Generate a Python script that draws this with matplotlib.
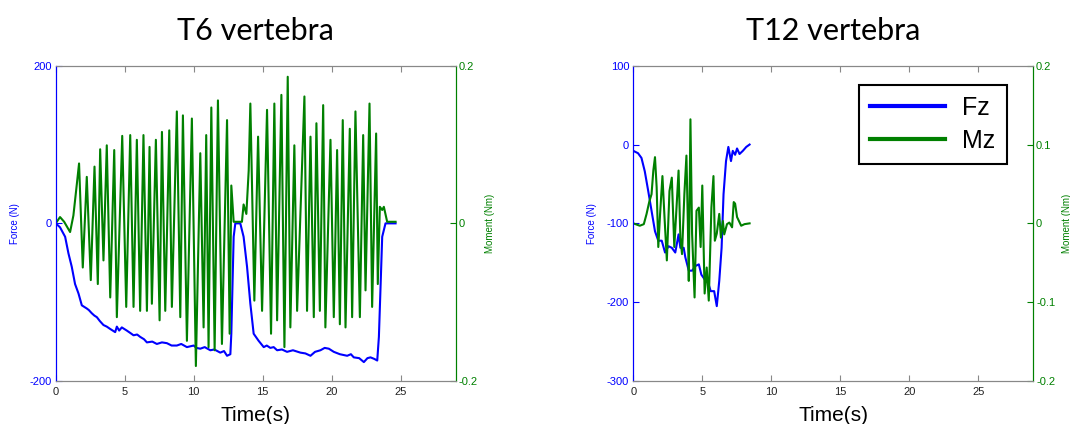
import matplotlib
matplotlib.use("Agg")
import matplotlib.pyplot as plt
from matplotlib.lines import Line2D

plt.rcParams["font.family"] = ["Liberation Sans", "DejaVu Sans"]
plt.rcParams["axes.unicode_minus"] = False

BLUE = "#0000ff"
GREEN = "#008000"

# ---- T6 vertebra ----
t6_fz_t = [0, 0.31, 0.68, 0.92, 1.16, 1.40, 1.65, 1.89, 2.25, 2.40, 2.61, 2.80, 2.98, 3.20, 3.46,
           3.70, 3.95, 4.31, 4.43, 4.60, 4.79, 5.15, 5.40, 5.64, 5.90, 6.12, 6.40, 6.61, 7.00, 7.33,
           7.70, 8.06, 8.40, 8.78, 9.10, 9.51, 10.0, 10.20, 10.48, 10.80, 11.21, 11.50, 11.93, 12.20,
           12.42, 12.66, 12.73, 12.90, 13.02, 13.38, 13.62, 13.87, 14.11, 14.35, 14.71, 15.08, 15.30,
           15.56, 15.80, 16.05, 16.40, 16.77, 17.20, 17.74, 18.10, 18.47, 18.80, 19.19, 19.50, 19.80,
           20.16, 20.60, 21.13, 21.40, 21.61, 22.00, 22.34, 22.60, 22.82, 23.10, 23.31, 23.43, 23.67,
           23.91, 24.64]
t6_fz = [0, -5, -17, -38, -55, -77, -89, -104, -108, -110, -114, -117, -119, -124, -129,
         -131, -134, -138, -131, -136, -132, -136, -139, -142, -141, -144, -147, -151, -150, -153,
         -151, -152, -155, -155, -153, -157, -155, -158, -159, -157, -161, -160, -164, -162,
         -168, -166, -140, -17, 0, 0, -17, -55, -102, -140, -149, -157, -155,
         -158, -157, -161, -160, -163, -161, -164, -165, -168, -163, -161, -158, -159,
         -163, -166, -168, -166, -170, -171, -176, -171, -170, -172, -174, -144, -17,
         0, 0]

t6_mz_t = [0, 0.31, 0.61, 1.04, 1.28, 1.53, 1.69, 1.96, 2.25, 2.54, 2.81, 3.05, 3.22, 3.46, 3.70,
           3.95, 4.24, 4.43, 4.82, 5.11, 5.40, 5.64, 5.88, 6.12, 6.36, 6.61, 6.80, 6.97, 7.26, 7.53,
           7.70, 7.94, 8.23, 8.42, 8.78, 9.03, 9.22, 9.51, 9.87, 10.16, 10.48, 10.72, 10.91, 11.08,
           11.28, 11.52, 11.76, 12.05, 12.42, 12.61, 12.73, 12.90, 13.50, 13.62, 13.82, 13.99, 14.11,
           14.40, 14.67, 14.96, 15.32, 15.61, 15.85, 16.05, 16.36, 16.58, 16.82, 17.01, 17.30, 17.50,
           18.03, 18.22, 18.47, 18.71, 18.90, 19.15, 19.39, 19.55, 19.92, 20.16, 20.40, 20.60, 20.81,
           21.01, 21.32, 21.49, 21.73, 22.05, 22.29, 22.46, 22.75, 22.94, 23.23, 23.35, 23.50, 23.67,
           23.79, 24.03, 24.64]
t6_mz = [0, 0.008, 0.002, -0.011, 0.010, 0.050, 0.076, -0.056, 0.059, -0.072, 0.072, -0.077, 0.094,
         -0.047, 0.099, -0.094, 0.093, -0.119, 0.111, -0.106, 0.112, -0.106, 0.106, -0.111, 0.112,
         -0.111, 0.097, -0.102, 0.106, -0.123, 0.116, -0.111, 0.118, -0.106, 0.142, -0.119, 0.137,
         -0.149, 0.133, -0.181, 0.089, -0.132, 0.112, -0.157, 0.147, -0.161, 0.156, -0.153, 0.131,
         -0.140, 0.048, 0.002, 0.002, 0.024, 0.012, 0.067, 0.152, -0.098, 0.110, -0.111, 0.144,
         -0.140, 0.152, -0.123, 0.163, -0.157, 0.186, -0.132, 0.099, -0.111, 0.161, -0.111, 0.110,
         -0.119, 0.127, -0.111, 0.150, -0.132, 0.106, -0.119, 0.093, -0.128, 0.131, -0.132, 0.120,
         -0.119, 0.142, -0.119, 0.112, -0.085, 0.152, -0.106, 0.114, -0.077, 0.021, 0.017, 0.021,
         0.002, 0.002]

# ---- T12 vertebra ----
t12_fz_t = [0, 0.34, 0.59, 0.83, 1.08, 1.32, 1.57, 1.81, 2.06, 2.30, 2.55, 2.79, 3.04, 3.28, 3.41,
            3.65, 3.77, 4.02, 4.26, 4.51, 4.75, 4.93, 5.17, 5.42, 5.61, 5.86, 6.05, 6.23, 6.40, 6.54,
            6.72, 6.89, 7.08, 7.21, 7.38, 7.52, 7.70, 7.94, 8.19, 8.43]
t12_fz = [-8, -11, -17, -34, -59, -84, -110, -122, -122, -137, -129, -131, -137, -114, -131,
          -131, -143, -160, -160, -154, -152, -165, -171, -175, -186, -186, -205, -173, -131, -63,
          -21, -3, -21, -8, -13, -5, -12, -8, -3, 0]

t12_mz_t = [0, 0.47, 0.76, 0.96, 1.15, 1.32, 1.45, 1.57, 1.69, 1.81, 1.94, 2.11, 2.26, 2.43, 2.62,
            2.79, 2.97, 3.16, 3.28, 3.41, 3.53, 3.70, 3.85, 3.95, 4.02, 4.14, 4.26, 4.44, 4.58, 4.75,
            4.88, 5.00, 5.17, 5.32, 5.47, 5.66, 5.81, 5.91, 6.05, 6.23, 6.35, 6.49, 6.59, 6.79, 6.96,
            7.16, 7.28, 7.38, 7.52, 7.82, 8.06, 8.43]
t12_mz = [0, -0.003, -0.001, 0.012, 0.027, 0.037, 0.067, 0.084, 0.046, -0.030, 0.012, 0.060, 0.008,
          -0.047, 0.041, 0.058, -0.030, 0.029, 0.067, -0.018, -0.039, 0.037, 0.086, 0.003, -0.073,
          0.132, -0.013, -0.094, 0.016, 0.020, -0.030, 0.048, -0.089, -0.056, -0.098, 0.020, 0.060,
          -0.022, -0.013, 0.012, -0.018, 0.003, -0.014, -0.001, 0.001, -0.005, 0.027, 0.025, 0.008,
          -0.003, -0.001, 0]

x_ticks = [0, 5, 10, 15, 20, 25]
m_ticks = [-0.2, -0.1, 0, 0.1, 0.2]
m_labels = ["-0.2", "-0.1", "0", "0.1", "0.2"]

fig = plt.figure(figsize=(10.7, 4.24), dpi=100)


def panel(pos, title, t_f, f, t_m, m, f_lim, f_ticks, m_tk, m_lb, legend=False):
    ax = fig.add_axes(pos)
    ax2 = ax.twinx()
    ax.plot(t_f, f, color=BLUE, lw=1.5)
    ax2.plot(t_m, m, color=GREEN, lw=1.5)
    ax.set_xlim(0, 29)
    ax.set_ylim(*f_lim)
    ax2.set_ylim(-0.2, 0.2)
    ax.set_xticks(x_ticks)
    ax.set_yticks(f_ticks)
    ax2.set_yticks(m_tk)
    ax2.set_yticklabels(m_lb)
    for a in (ax, ax2):
        a.tick_params(direction="in", length=4, width=0.8, labelsize=8)
        a.spines["top"].set_color("#888888")
        a.spines["bottom"].set_color("#888888")
        a.spines["left"].set_color(BLUE)
        a.spines["right"].set_color(GREEN)
    ax.tick_params(axis="x", top=True, colors="#888888", labelcolor="#222222", pad=4)
    ax.tick_params(axis="y", colors=BLUE, pad=3)
    ax2.tick_params(axis="y", colors=GREEN, pad=2)
    ax.set_ylabel("Force (N)", color=BLUE, fontsize=7, labelpad=7)
    ax2.set_ylabel("Moment (Nm)", color=GREEN, fontsize=7, labelpad=5)
    ax.set_xlabel("Time(s)", fontsize=15, labelpad=7)
    cx = pos[0] + pos[2] / 2
    fig.text(cx, 1 - 40 / 424, title, ha="center", va="baseline", fontsize=22,
             family=["Lato", "DejaVu Sans"])
    if legend:
        h = [Line2D([], [], color=BLUE, lw=3), Line2D([], [], color=GREEN, lw=3)]
        leg = ax2.legend(h, ["Fz", "Mz"], loc="upper right", bbox_to_anchor=(0.934, 0.939),
                         borderaxespad=0, fontsize=18, handlelength=3.0, fancybox=False,
                         framealpha=1, edgecolor="black", borderpad=0.45, labelspacing=0.35,
                         handletextpad=0.7)
        leg.get_frame().set_linewidth(1.5)


panel([0.0521, 0.1014, 0.3738, 0.7436], "T6 vertebra", t6_fz_t, t6_fz, t6_mz_t, t6_mz,
      (-200, 200), [-200, 0, 200], [-0.2, 0, 0.2], ["-0.2", "0", "0.2"])
panel([0.5919, 0.1014, 0.3738, 0.7436], "T12 vertebra", t12_fz_t, t12_fz, t12_mz_t, t12_mz,
      (-300, 100), [-300, -200, -100, 0, 100], m_ticks, m_labels, legend=True)

fig.savefig("out.png", dpi=100)
